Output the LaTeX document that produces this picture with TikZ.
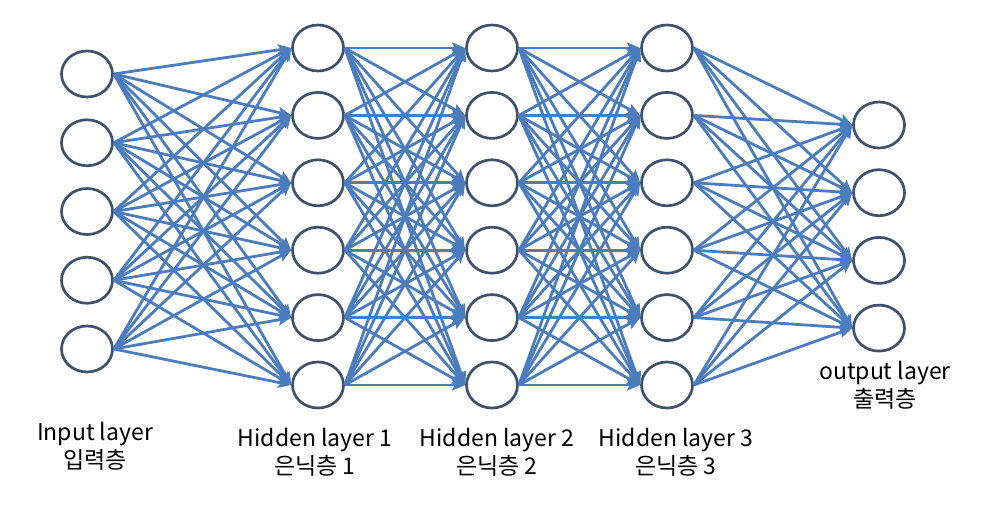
\documentclass[tikz,border=0pt]{standalone}
\usepackage{fontspec}
\setmainfont{Noto Sans CJK KR}
\usetikzlibrary{arrows.meta, shapes.geometric}

\definecolor{linkblue}{RGB}{74,124,190}
\definecolor{ringslate}{RGB}{62,82,110}

\begin{document}
\begin{tikzpicture}[%
        x = 1pt,
        y = -1pt,
        > = {Stealth[length = 13pt, width = 11pt, inset = 2.5pt]},
        neuron/.style = {ellipse, draw = ringslate, line width = 2.7pt,
            minimum width = 51pt, minimum height = 46pt, inner sep = 0pt},
        link/.style = {->, draw = linkblue, line width = 2.8pt},
        caption/.style = {align = center,
            font = \fontsize{23}{28}\selectfont}
    ]

        % Fix the size of the page.
        \useasboundingbox (0, 0) rectangle (995, 514);

        % Draw the input layer.
        \foreach \n in {1, ..., 5}{
            \node[neuron] (in\n) at (87, {74 + (\n - 1)*68.75}) {};
        }

        % Draw the three hidden layers.
        \foreach \L/\X in {1/318, 2/492, 3/667}{
            \foreach \n in {1, ..., 6}{
                \node[neuron] (h\L\n) at (\X, {48 + (\n - 1)*67.4}) {};
            }
        }

        % Draw the output layer.
        \foreach \n in {1, ..., 4}{
            \node[neuron] (out\n) at (879, {125 + (\n - 1)*67.7}) {};
        }

        % Connect the input layer to the first hidden layer.
        \foreach \a in {1, ..., 5}{
            \foreach \b in {1, ..., 6}{
                \draw[link] (in\a.east) to (h1\b.west);
            }
        }

        % Connect each hidden layer to the next one.
        \foreach \L[%
            evaluate = {\L as \M using {int(\L + 1)}}
        ] in {1, 2}{%
            \foreach \a in {1, ..., 6}{
                \foreach \b in {1, ..., 6}{
                    \draw[link] (h\L\a.east) to (h\M\b.west);
                }
            }
        }

        % Connect the last hidden layer to the output layer.
        \foreach \a in {1, ..., 6}{
            \foreach \b in {1, ..., 4}{
                \draw[link] (h3\a.east) to (out\b.west);
            }
        }

        % Label the layers.
        \node[caption] (inlabel) at (95, 446) {Input layer\\입력층};
        \node[caption] (h1label) at (315, 452) {Hidden layer 1\\은닉층 1};
        \node[caption] (h2label) at (497, 452) {Hidden layer 2\\은닉층 2};
        \node[caption] (h3label) at (676, 452) {Hidden layer 3\\은닉층 3};
        \node[caption] (outlabel) at (885, 385) {output layer\\출력층};
    \end{tikzpicture}
\end{document}
